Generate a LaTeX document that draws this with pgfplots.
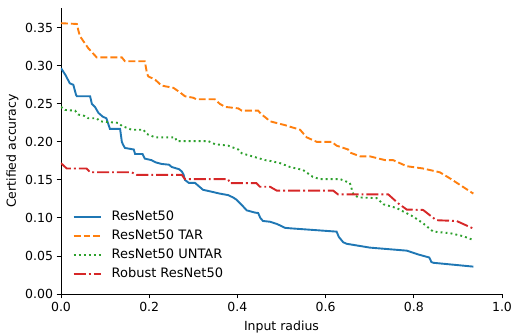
\documentclass[border=0pt]{standalone}
\usepackage{fontspec}
\setmainfont{DejaVu Sans}
\usepackage{pgfplots}
\pgfplotsset{compat=1.18}
\definecolor{tabblue}{HTML}{1F77B4}
\definecolor{taborange}{HTML}{FF7F0E}
\definecolor{tabgreen}{HTML}{2CA02C}
\definecolor{tabred}{HTML}{D62728}
\newcommand{\fnt}{\fontsize{12.5pt}{15pt}\selectfont}
\newcommand{\lfnt}{\fontsize{13pt}{15pt}\selectfont}
\begin{document}
\begin{tikzpicture}
\begin{axis}[
  scale only axis,
  width=441pt, height=286pt,
  xmin=0, xmax=1, ymin=0, ymax=0.376,
  axis x line*=bottom, axis y line*=left,
  axis line style={-, line width=0.9pt},
  tick align=outside, major tick length=4.4pt,
  tick style={line width=0.9pt, black},
  xtick={0,0.2,0.4,0.6,0.8,1.0},
  ytick={0,0.05,0.1,0.15,0.2,0.25,0.3,0.35},
  minor tick num=0,
  font=\fnt,
  /pgf/number format/assume math mode=true,
  xticklabel style={/pgf/number format/.cd, fixed, fixed zerofill, precision=1},
  yticklabel style={/pgf/number format/.cd, fixed, fixed zerofill, precision=2},
  scaled ticks=false,
  xlabel={Input radius}, ylabel={Certified accuracy},
  xlabel style={yshift=-3pt},
  legend style={at={(axis cs:0.0265,0.1095)}, anchor=north west, draw=none, fill=none,
    inner sep=0pt, outer sep=0pt,
    font=\lfnt, row sep=7pt, column sep=10pt,
    nodes={font=\lfnt, inner sep=0pt, text height=9.5pt, text depth=2.5pt}},
  legend cell align=left,
  legend image code/.code={\draw[#1] (0pt,0pt) -- (27pt,0pt);},
  every axis plot/.append style={line width=1.9pt, line cap=butt},
]
\addplot[tabblue, solid] coordinates {
(0,0.297)(0.01,0.288)(0.02,0.277)(0.028,0.275)(0.034,0.262)(0.036,0.260)(0.066,0.260)(0.070,0.250)(0.077,0.246)(0.085,0.238)(0.095,0.233)(0.103,0.231)(0.108,0.222)(0.111,0.217)(0.134,0.217)(0.138,0.200)(0.141,0.196)(0.145,0.192)(0.165,0.190)(0.168,0.184)(0.185,0.184)(0.190,0.178)(0.205,0.176)(0.215,0.173)(0.228,0.171)(0.245,0.170)(0.251,0.167)(0.268,0.164)(0.274,0.161)(0.278,0.157)(0.281,0.150)(0.290,0.146)(0.304,0.146)(0.310,0.143)(0.322,0.137)(0.330,0.136)(0.360,0.132)(0.379,0.130)(0.390,0.127)(0.398,0.124)(0.410,0.117)(0.421,0.110)(0.440,0.107)(0.447,0.1065)(0.452,0.100)(0.458,0.096)(0.474,0.095)(0.490,0.092)(0.508,0.087)(0.519,0.0864)(0.625,0.082)(0.630,0.075)(0.640,0.068)(0.648,0.066)(0.700,0.061)(0.784,0.057)(0.810,0.052)(0.835,0.048)(0.840,0.042)(0.845,0.041)(0.935,0.036)
};
\addlegendentry{ResNet50}
\addplot[taborange, dash pattern=on 6.9pt off 3pt] coordinates {
(0,0.356)(0.036,0.355)(0.040,0.345)(0.043,0.339)(0.050,0.333)(0.062,0.323)(0.070,0.318)(0.081,0.311)(0.138,0.311)(0.145,0.306)(0.190,0.306)(0.195,0.290)(0.198,0.286)(0.213,0.282)(0.228,0.274)(0.255,0.271)(0.270,0.265)(0.281,0.260)(0.300,0.258)(0.307,0.256)(0.349,0.256)(0.360,0.250)(0.372,0.246)(0.402,0.244)(0.410,0.241)(0.447,0.241)(0.455,0.236)(0.466,0.231)(0.474,0.227)(0.508,0.222)(0.519,0.220)(0.542,0.216)(0.557,0.206)(0.580,0.200)(0.614,0.200)(0.625,0.195)(0.651,0.190)(0.655,0.186)(0.678,0.181)(0.700,0.181)(0.735,0.176)(0.753,0.176)(0.784,0.168)(0.821,0.165)(0.859,0.160)(0.882,0.152)(0.935,0.132)
};
\addlegendentry{ResNet50 TAR}
\addplot[tabgreen, dash pattern=on 1.9pt off 3.1pt] coordinates {
(0,0.246)(0.009,0.242)(0.032,0.241)(0.039,0.236)(0.054,0.234)(0.062,0.231)(0.081,0.231)(0.088,0.227)(0.130,0.225)(0.138,0.221)(0.160,0.216)(0.187,0.216)(0.194,0.2105)(0.213,0.206)(0.259,0.206)(0.262,0.201)(0.334,0.201)(0.349,0.197)(0.379,0.195)(0.402,0.190)(0.410,0.185)(0.463,0.176)(0.474,0.175)(0.497,0.172)(0.519,0.167)(0.549,0.163)(0.571,0.154)(0.587,0.151)(0.633,0.151)(0.655,0.146)(0.663,0.131)(0.674,0.127)(0.716,0.126)(0.731,0.118)(0.761,0.113)(0.798,0.102)(0.821,0.093)(0.844,0.082)(0.882,0.080)(0.912,0.076)(0.935,0.071)
};
\addlegendentry{ResNet50 UNTAR}
\addplot[tabred, dash pattern=on 12pt off 3pt on 1.9pt off 3pt] coordinates {
(0,0.172)(0.013,0.165)(0.058,0.165)(0.066,0.160)(0.160,0.160)(0.172,0.1566)(0.274,0.1566)(0.281,0.151)(0.379,0.151)(0.383,0.1457)(0.443,0.1457)(0.451,0.141)(0.474,0.141)(0.489,0.136)(0.617,0.136)(0.628,0.131)(0.742,0.131)(0.765,0.119)(0.784,0.111)(0.821,0.1105)(0.851,0.097)(0.897,0.096)(0.935,0.086)
};
\addlegendentry{Robust ResNet50}
\end{axis}
\pgfresetboundingbox
\path (current axis.south west) ++(-61pt,-39pt) coordinate (bl);
\path (current axis.north east) ++(11pt,8pt) coordinate (tr);
\useasboundingbox (bl) rectangle (tr);
\end{tikzpicture}
\end{document}
